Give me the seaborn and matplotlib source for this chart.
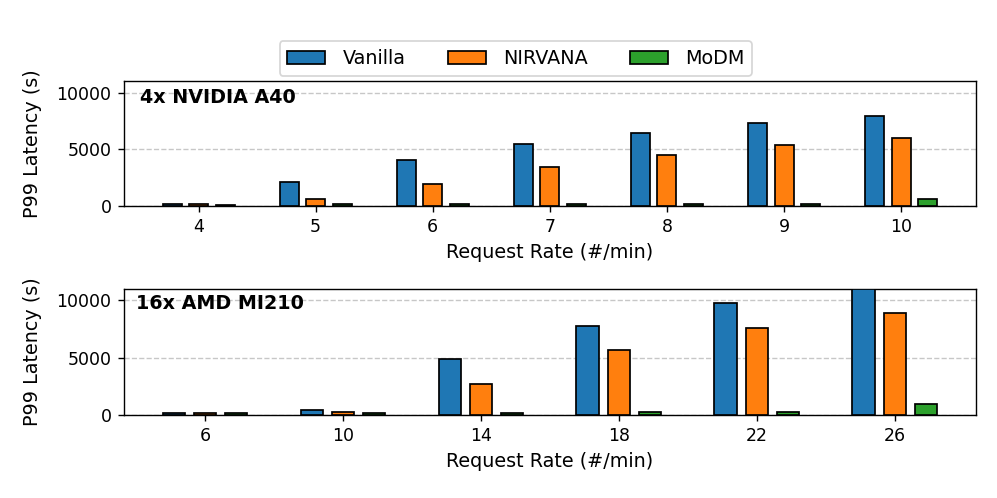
import pandas as pd
import matplotlib
matplotlib.use("Agg")
import matplotlib.pyplot as plt
import seaborn as sns

# P99 latency (s) per request rate
systems = ['Vanilla', 'NIRVANA', 'MoDM']
colors = ['#1f77b4', '#ff7f0e', '#2ca02c']

# 4x NVIDIA A40
a40_rates = ['4', '5', '6', '7', '8', '9', '10']
a40_vanilla = [230, 2170, 4090, 5460, 6460, 7280, 7920]
a40_nirvana = [170, 640, 1990, 3420, 4500, 5350, 5990]
a40_modm = [120, 200, 200, 170, 170, 230, 640]

# 16x AMD MI210
mi210_rates = ['6', '10', '14', '18', '22', '26']
mi210_vanilla = [150, 380, 4900, 7740, 9740, 10950]
mi210_nirvana = [130, 210, 2700, 5660, 7570, 8890]
mi210_modm = [140, 170, 170, 210, 240, 970]


def to_long(rates, vanilla, nirvana, modm):
    rows = []
    for name, vals in zip(systems, [vanilla, nirvana, modm]):
        for r, v in zip(rates, vals):
            rows.append({'Rate': r, 'System': name, 'Latency': v})
    return pd.DataFrame(rows)


df_a40 = to_long(a40_rates, a40_vanilla, a40_nirvana, a40_modm)
df_mi210 = to_long(mi210_rates, mi210_vanilla, mi210_nirvana, mi210_modm)

# 8x4 inch figure at 125 dpi -> 997x498 px
fig = plt.figure(figsize=(7.976, 3.984), dpi=125)
ax1 = fig.add_axes([0.124, 0.586, 0.855, 0.251])
ax2 = fig.add_axes([0.124, 0.167, 0.855, 0.253])

panels = [
    (ax1, df_a40, a40_rates, '4x NVIDIA A40', (-0.64, len(a40_rates) - 1 + 0.64), 0.019, 0.872),
    (ax2, df_mi210, mi210_rates, '16x AMD MI210', (-0.59, len(mi210_rates) - 1 + 0.59), 0.015, 0.88),
]

for ax, df, rates, label, xlim, tx, ty in panels:
    sns.barplot(data=df, x='Rate', y='Latency', hue='System', order=rates,
                hue_order=systems, palette=colors, saturation=1, width=0.678,
                gap=0.283, edgecolor='black', linewidth=1.0, ax=ax,
                legend=False, zorder=3)
    ax.set_xlim(*xlim)
    ax.set_ylim(0, 11000)
    ax.set_yticks([0, 5000, 10000])
    ax.yaxis.grid(True, linestyle='--', color='#b0b0b0', alpha=0.7, zorder=0)
    ax.set_axisbelow(True)
    ax.set_xlabel('Request Rate (#/min)', fontsize=11)
    ax.set_ylabel('P99 Latency (s)', fontsize=11)
    ax.yaxis.set_label_coords(-0.096, 0.5)
    ax.tick_params(labelsize=10)
    ax.text(tx, ty, label, transform=ax.transAxes, fontsize=11,
            fontweight='bold', va='center', ha='left')

# Shared legend above the top panel
handles = [plt.Rectangle((0, 0), 1, 1, facecolor=c, edgecolor='black', linewidth=1.0)
           for c in colors]
fig.legend(handles, systems, loc='center', bbox_to_anchor=(0.5175, 0.8825),
           ncol=3, fontsize=11, frameon=True, handletextpad=0.9,
           columnspacing=2.2)

plt.savefig('out.png', dpi=125)
